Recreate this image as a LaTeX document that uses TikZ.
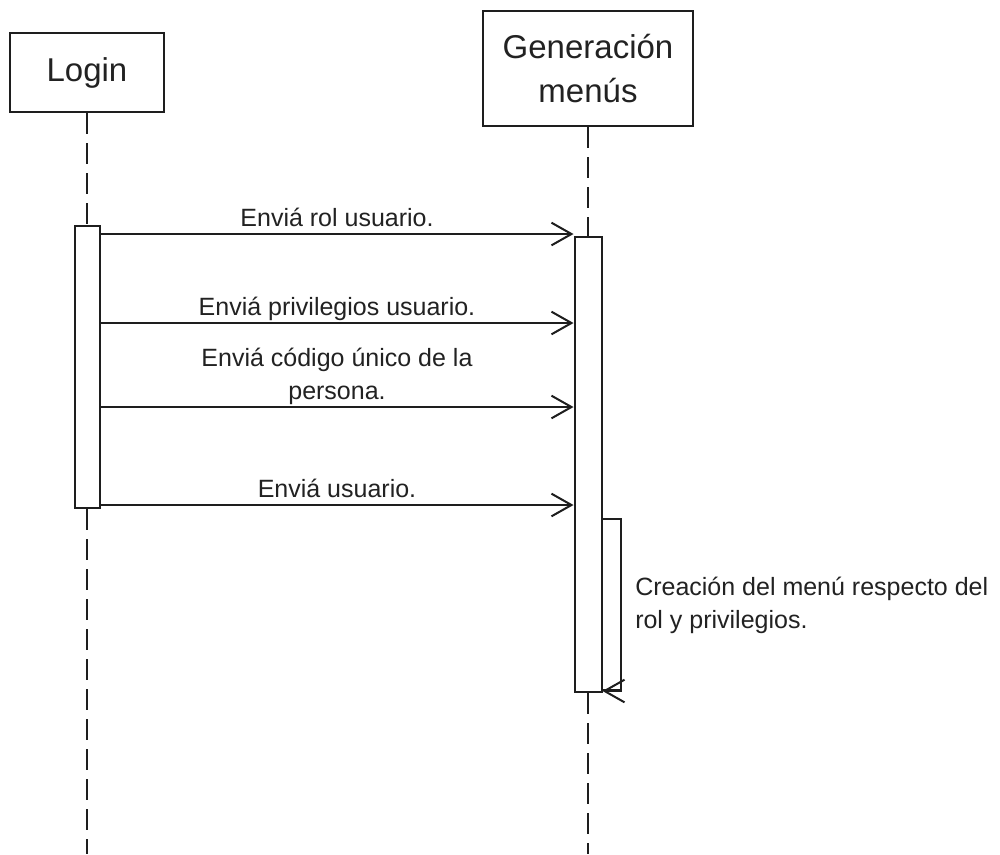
\documentclass[tikz,border=0pt]{standalone}
\usepackage{fontspec}
\setmainfont{Liberation Sans}
\usetikzlibrary{arrows.meta}
\definecolor{linecol}{HTML}{1E1E1E}
\definecolor{textcol}{HTML}{222222}
\begin{document}
\begin{tikzpicture}[x=0.75pt,y=-0.75pt,
  ink/.style={draw=linecol, line width=1.5pt},
  objbox/.style={ink, fill=white, inner sep=0pt, align=center,
    font=\fontsize{24.75pt}{33pt}\selectfont, text=textcol},
  actbox/.style={ink, fill=white, inner sep=0pt},
  lifeline/.style={draw=linecol, line width=1.5pt, dash pattern=on 15.75pt off 6.75pt},
  msg/.style={draw=linecol, line width=1.5pt,
    -{Straight Barb[length=15pt,width=17pt,line width=1.5pt]}},
  lbl/.style={font=\fontsize{18.75pt}{24.75pt}\selectfont, text=textcol,
    inner sep=0pt, align=center}
]
% canvas
\fill[white] (0,0) rectangle (1000,854);
\useasboundingbox (0,0) rectangle (1000,854);
\coordinate (bottom) at (0,854);

% objects
\node[objbox, minimum width=115.5pt, minimum height=59.25pt] (login) at (87,72.5) {Login};
\node[objbox, minimum width=157.5pt, minimum height=86.25pt] (gen) at (588,68.5) {Generación\\menús};

% activation bars
\node[actbox, minimum width=18.75pt, minimum height=211.5pt] (lact) at (87,367) {};
\node[actbox, minimum width=20.25pt, minimum height=341.25pt] (gact) at (588,464.5) {};

% lifelines
\draw[lifeline] (login.south) -- (lact.north);
\draw[lifeline] (lact.south) -- (lact.south |- bottom);
\draw[lifeline] (gen.south) -- (gact.north);
\draw[lifeline] (gact.south) -- (gact.south |- bottom);

% nested activation of the self call
\node[actbox, minimum width=14.6pt, minimum height=128.25pt] (self) at (611.25,604.5) {};

% messages
\coordinate (m1) at (0,234);
\coordinate (m2) at (0,323);
\coordinate (m3) at (0,407);
\coordinate (m4) at (0,505);

\draw[msg] (lact.east |- m1) -- (gact.west |- m1)
  node[lbl, midway, anchor=base, yshift=6pt] {Enviá rol usuario.};
\draw[msg] (lact.east |- m2) -- (gact.west |- m2)
  node[lbl, midway, anchor=base, yshift=6pt] {Enviá privilegios usuario.};
\draw[msg] (lact.east |- m3) -- (gact.west |- m3)
  node[lbl, midway, anchor=south, yshift=1.3pt] {Enviá código único de la\\persona.};
\draw[msg] (lact.east |- m4) -- (gact.west |- m4)
  node[lbl, midway, anchor=base, yshift=6pt] {Enviá usuario.};

% self call return
\draw[msg] (self.south east) -- (gact.east |- self.south);
\node[lbl, align=left, anchor=base west] (selflbl) at (635,628)
  {Creación del menú respecto del\\rol y privilegios.};
\end{tikzpicture}
\end{document}
